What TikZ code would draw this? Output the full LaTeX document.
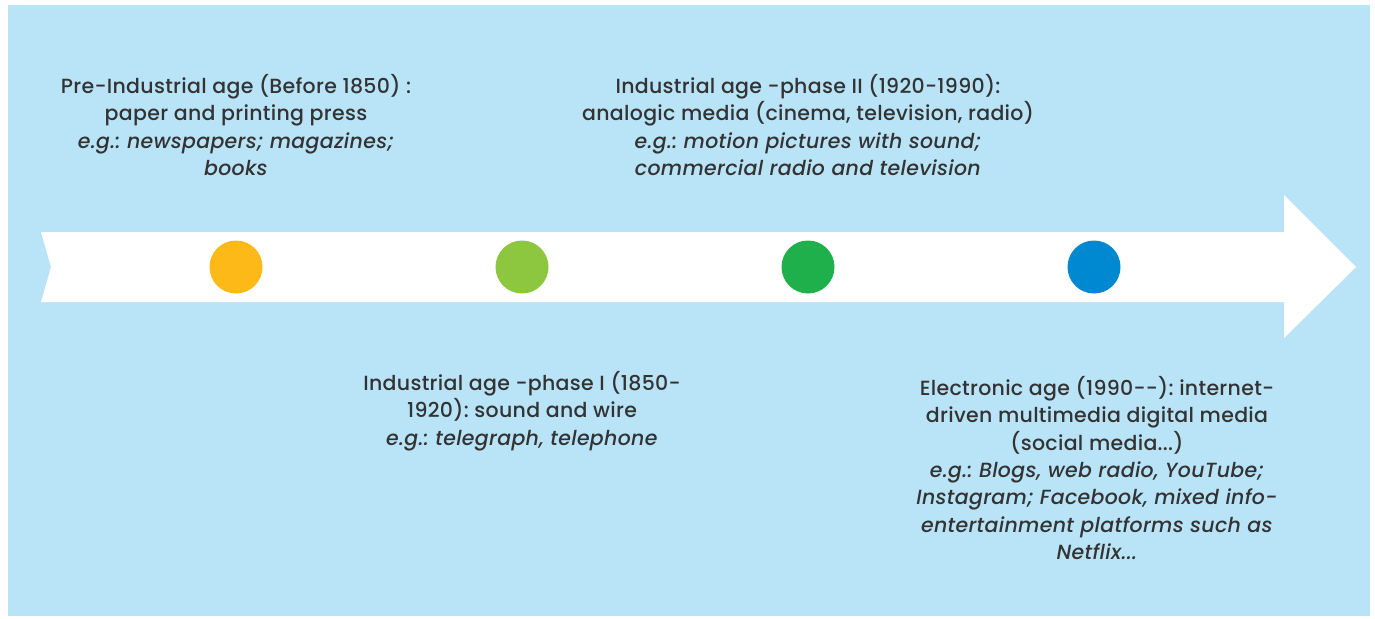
\documentclass[tikz,border=0pt]{standalone}
\usepackage{fontspec}
\setmainfont{Poppins}[UprightFont=* Medium, ItalicFont=* Medium Italic, LetterSpace=1.5]
\frenchspacing
\definecolor{bgblue}{HTML}{B9E4F8}
\definecolor{txtgray}{HTML}{333333}
\definecolor{dotorange}{HTML}{FDB918}
\definecolor{dotlime}{HTML}{8DC63F}
\definecolor{dotgreen}{HTML}{1FB04B}
\definecolor{dotblue}{HTML}{0088D1}
\begin{document}
\begin{tikzpicture}[x=1pt,y=-1pt]
\tikzstyle{era}=[align=center, text=txtgray, inner sep=0pt, font=\fontsize{20.5}{27.3}\selectfont]
\tikzstyle{dot}=[circle, minimum size=53pt, inner sep=0pt]
\useasboundingbox (0,0) rectangle (1375,618);
\fill [bgblue] (8,5) rectangle (1370,616);
% timeline arrow
\fill [white] (41,232) -- (1284,232) -- (1284,195) -- (1356,267) -- (1284,338)
  -- (1284,302) -- (41,302) -- (51,267) -- cycle;
\node [dot, fill=dotorange] (c1) at (236,267) {};
\node [dot, fill=dotlime] (c2) at (522,267) {};
\node [dot, fill=dotgreen] (c3) at (808,267) {};
\node [dot, fill=dotblue] (c4) at (1094,267) {};
% era texts
\node [era] (t1) at (236,125) {Pre-Industrial age (Before 1850) :\\ paper and printing press\\
  \textit{e.g.: newspapers; magazines;}\\ \textit{books}};
\node [era] (t3) at (808,125) {Industrial age -phase II (1920-1990):\\
  analogic media (cinema, television, radio)\\ \textit{e.g.: motion pictures with sound;}\\
  \textit{commercial radio and television}};
\node [era] (t2) at (522,411) {Industrial age -phase I (1850-\\ 1920): sound and wire\\
  \textit{e.g.: telegraph, telephone}};
\node [era] (t4) at (1097,468) {Electronic age (1990-{}-): internet-\\ driven multimedia digital media\\
  (social media...)\\ \textit{e.g.: Blogs, web radio, YouTube;}\\ \textit{Instagram; Facebook, mixed info-}\\
  \textit{entertainment platforms such as}\\ \textit{Netflix...}};
\end{tikzpicture}
\end{document}
